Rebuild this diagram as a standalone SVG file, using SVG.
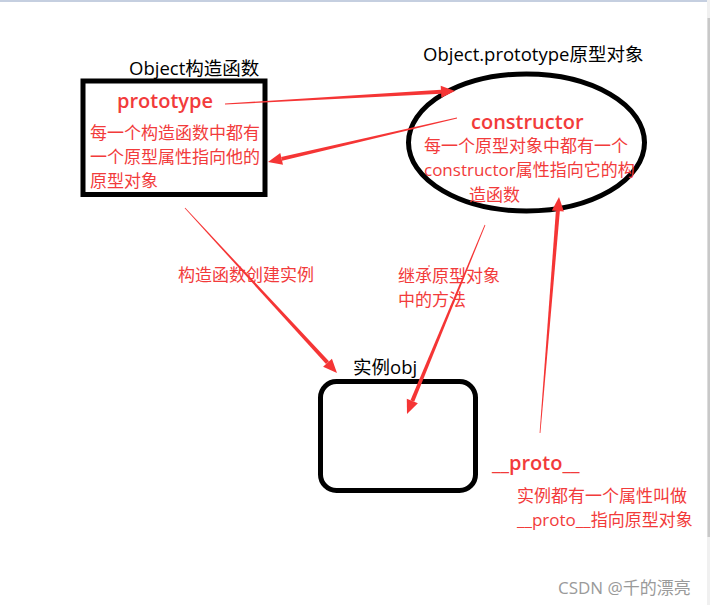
<svg xmlns="http://www.w3.org/2000/svg" width="710" height="605" viewBox="0 0 710 605">
<style>
.box{fill:none;stroke:#000;stroke-width:5}
.lbl{font-family:"Open Sans","Noto Sans CJK SC",sans-serif;font-size:18.5px;fill:#000}
.key{font-family:"Open Sans","Noto Sans CJK SC",sans-serif;font-size:20px;font-weight:600;fill:#f23b3b}
.note{font-family:"Open Sans","Noto Sans CJK SC",sans-serif;font-size:17px;fill:#f23b3b}
.wm{font-family:"Open Sans","Noto Sans CJK SC",sans-serif;font-size:17px;fill:#9a9a9a}
.arr{fill:#f53535;stroke:none}
</style>
<rect x="0" y="0" width="710" height="605" fill="#fff"/>
<rect x="0" y="0" width="707" height="2" fill="#c5cfe0"/>
<rect x="707" y="0" width="3" height="605" fill="#f0f0f0"/>
<rect x="707.5" y="18" width="2.5" height="519" fill="#c8c8c8"/>

<g id="constructor-node">
<rect class="box" x="83" y="81" width="182" height="113.5"/>
<text class="lbl" x="129" y="75">Object构造函数</text>
<text class="key" x="117" y="108">prototype</text>
<text class="note" x="90" y="139">每一个构造函数中都有</text>
<text class="note" x="90" y="163">一个原型属性指向他的</text>
<text class="note" x="90" y="187">原型对象</text>
</g>

<g id="prototype-node">
<ellipse class="box" cx="526.5" cy="142.5" rx="118" ry="68.5"/>
<text class="lbl" x="423" y="61">Object.prototype原型对象</text>
<text class="key" x="471" y="129">constructor</text>
<text class="note" x="424" y="152">每一个原型对象中都有一个</text>
<text class="note" x="424" y="176">constructor属性指向它的构</text>
<text class="note" x="469" y="201">造函数</text>
</g>

<g id="instance-node">
<rect class="box" x="320.5" y="381.5" width="155" height="109" rx="16" ry="16"/>
<text class="lbl" x="353" y="374">实例obj</text>
</g>

<g id="labels">
<text class="note" x="178" y="281">构造函数创建实例</text>
<text class="note" x="398" y="282">继承原型对象</text>
<text class="note" x="398" y="306">中的方法</text>
<text class="key" x="492" y="470">__proto__</text>
<text class="note" x="517" y="502">实例都有一个属性叫做</text>
<text class="note" x="517" y="526">__proto__指向原型对象</text>
<circle cx="429" cy="266" r="0.8" fill="#f53535"/>
</g>

<g id="connectors">
<polygon class="arr" points="225.02,104.40 441.13,93.79 440.91,89.79 224.98,103.60"/>
<polygon class="arr" points="455,91 441.36,97.78 440.68,85.80"/>

<polygon class="arr" points="456.91,117.61 281.19,156.88 282.09,160.78 457.09,118.39"/>
<polygon class="arr" points="268,162 280.28,152.99 283.00,164.67"/>

<polygon class="arr" points="184.71,208.27 326.04,364.06 328.98,361.35 185.29,207.73"/>
<polygon class="arr" points="337,373 323.10,366.77 331.92,358.63"/>

<polygon class="arr" points="484.63,224.85 410.49,400.30 414.19,401.82 485.37,225.15"/>
<polygon class="arr" points="407,414 406.79,398.77 417.89,403.35"/>

<polygon class="arr" points="540.40,433.03 559.87,211.12 555.89,210.80 539.60,432.97"/>
<polygon class="arr" points="559,197 563.86,211.44 551.90,210.48"/>
</g>

<text class="wm" x="558" y="594">CSDN @千的漂亮</text>
</svg>
